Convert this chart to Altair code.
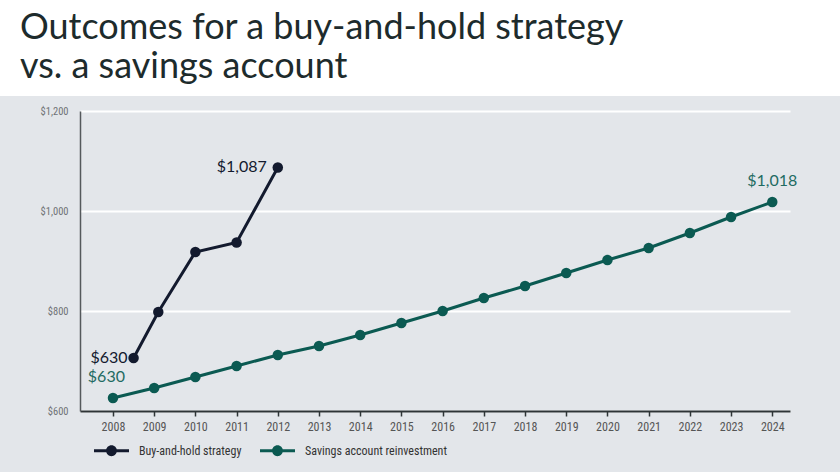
import altair as alt
import pandas as pd

# ---- data ----
bh_years = [2008.5, 2009.1, 2010, 2011, 2012]
bh_values = [706, 798, 918, 937, 1087]

sv_years = list(range(2008, 2025))
sv_values = [626, 646, 668, 690, 712, 730, 752, 776, 800, 826, 850, 876, 902, 926, 956, 988, 1018]

series_names = ["Buy-and-hold strategy", "Savings account reinvestment"]
series_colors = ["#131a2e", "#0b5a52"]

y_ticks = [600, 800, 1000, 1200]
x_ticks = list(range(2008, 2025))

title_line1 = "Outcomes for a buy-and-hold strategy"
title_line2 = "vs. a savings account"

# label texts
bh_start_label = "$630"
bh_end_label = "$1,087"
sv_start_label = "$630"
sv_end_label = "$1,018"

df = pd.concat([
    pd.DataFrame({"year": bh_years, "value": bh_values, "series": series_names[0]}),
    pd.DataFrame({"year": sv_years, "value": sv_values, "series": series_names[1]}),
])

lab_bh = pd.DataFrame({
    "year": [bh_years[0], bh_years[-1]],
    "value": [bh_values[0], bh_values[-1]],
    "text": [bh_start_label, bh_end_label],
})
lab_sv_start = pd.DataFrame({"year": [sv_years[0]], "value": [sv_values[0]], "text": [sv_start_label]})
lab_sv_end = pd.DataFrame({"year": [sv_years[-1]], "value": [sv_values[-1]], "text": [sv_end_label]})

COND = "Roboto Condensed, Liberation Sans Narrow, DejaVu Sans Condensed, Roboto, sans-serif"
LABELFONT = "Lato, Inter, Noto Sans, sans-serif"

xs = alt.Scale(domain=[2007.2, 2024.43], nice=False, zero=False)
ys = alt.Scale(domain=[600, 1200], nice=False, zero=False)

legend_path = ("M -1 -0.09 L 1 -0.09 L 1 0.09 L -1 0.09 Z "
               "M 0.31 0 A 0.31 0.31 0 1 1 -0.31 0 A 0.31 0.31 0 1 1 0.31 0 Z")

color = alt.Color(
    "series:N",
    scale=alt.Scale(domain=series_names, range=series_colors),
    legend=alt.Legend(
        title=None, orient="none", direction="horizontal",
        legendX=14, legendY=322,
        symbolType=legend_path, symbolSize=1225, symbolStrokeWidth=0,
        symbolOpacity=1,
        labelFont=COND, labelFontSize=12, labelColor="#333333",
        labelOffset=10, columnPadding=18,
    ),
)

x_enc = alt.X("year:Q", scale=xs, axis=alt.Axis(
    values=x_ticks, format="d", title=None, grid=False,
    domainColor="#2e3436", domainWidth=2, tickColor="#2e3436", tickWidth=1.5, tickSize=5,
    labelFont=COND, labelFontSize=12, labelColor="#555555", labelPadding=5,
))
y_enc = alt.Y("value:Q", scale=ys, axis=alt.Axis(
    values=y_ticks, format="$,.0f", title=None, ticks=False,
    grid=True, gridColor="#ffffff", gridWidth=2.2,
    domainColor="#55595c", domainWidth=1.5,
    labelFont=COND, labelFontSize=10.5, labelColor="#6f7275", labelPadding=12,
))

base = alt.Chart(df)
lines = base.mark_line(strokeWidth=3).encode(x=x_enc, y=y_enc, color=color)
points = base.mark_circle(size=110, opacity=1).encode(
    x="year:Q", y="value:Q",
    color=alt.Color("series:N", legend=None, scale=alt.Scale(domain=series_names, range=series_colors)),
)

# white band above the grey panel (title area)
top_band = alt.Chart(alt.Data(values=[{}])).mark_rect(color="#ffffff").encode(
    x=alt.value(-80), x2=alt.value(760), y=alt.value(-111), y2=alt.value(-15)
)

title_style = dict(align="left", baseline="alphabetic", fontSize=36, font=LABELFONT,
                   fontWeight=400, color="#1d2b2c")
title1 = alt.Chart(alt.Data(values=[{"t": title_line1}])).mark_text(**title_style).encode(
    x=alt.value(-60), y=alt.value(-72), text="t:N")
title2 = alt.Chart(alt.Data(values=[{"t": title_line2}])).mark_text(**title_style).encode(
    x=alt.value(-60), y=alt.value(-33), text="t:N")

t_bh_start = alt.Chart(lab_bh.iloc[[0]]).mark_text(
    align="right", baseline="middle", dx=-6, dy=0, fontSize=16, font=LABELFONT, color=series_colors[0]
).encode(x="year:Q", y="value:Q", text="text:N")
t_bh_end = alt.Chart(lab_bh.iloc[[1]]).mark_text(
    align="right", baseline="middle", dx=-11, dy=-1, fontSize=16, font=LABELFONT, color=series_colors[0]
).encode(x="year:Q", y="value:Q", text="text:N")
t_sv_start = alt.Chart(lab_sv_start).mark_text(
    align="right", baseline="middle", dx=12, dy=-21, fontSize=16, font=LABELFONT, color="#1f6b62"
).encode(x="year:Q", y="value:Q", text="text:N")
t_sv_end = alt.Chart(lab_sv_end).mark_text(
    align="center", baseline="middle", dx=0, dy=-21, fontSize=16, font=LABELFONT, color="#1f6b62"
).encode(x="year:Q", y="value:Q", text="text:N")

chart = alt.layer(
    top_band, title1, title2, lines, points, t_bh_start, t_bh_end, t_sv_start, t_sv_end
).properties(
    width=710, height=300,
    background="#e3e6ea",
    padding={"left": 80, "top": 111, "right": 50, "bottom": 61},
    autosize=alt.AutoSizeParams(type="none"),
).configure_view(stroke=None)

chart.save("out.html", embed_options={"renderer": "svg", "actions": False})
